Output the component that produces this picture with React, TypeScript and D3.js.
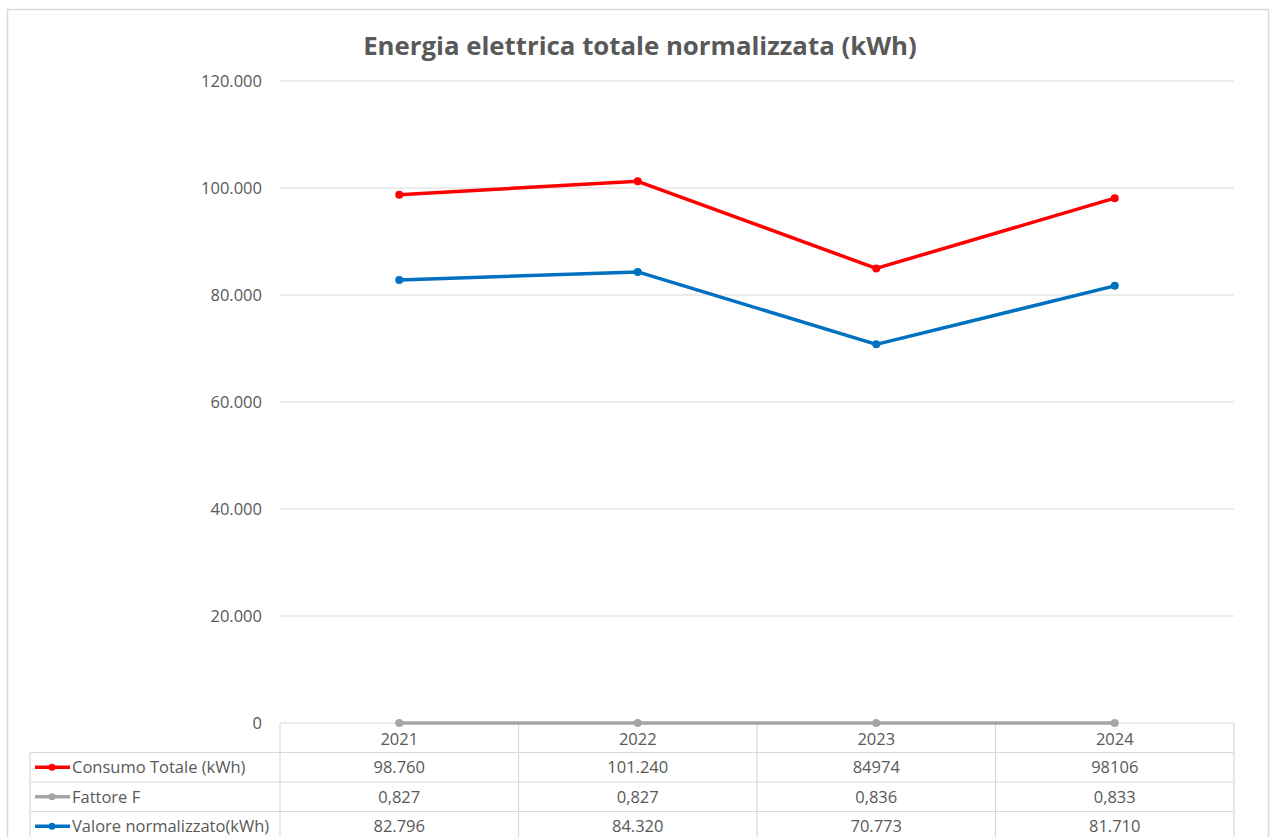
import React from 'react';
import { scaleLinear, scalePoint, line } from 'd3';

const years = ['2021', '2022', '2023', '2024'];
const consumo = [98760, 101240, 84974, 98106];
const fattore = [0.827, 0.827, 0.836, 0.833];
const valore = [82796, 84320, 70773, 81710];
const yTicks = [0, 20000, 40000, 60000, 80000, 100000, 120000];

const consumoLabels = ['98.760', '101.240', '84974', '98106'];
const fattoreLabels = ['0,827', '0,827', '0,836', '0,833'];
const valoreLabels = ['82.796', '84.320', '70.773', '81.710'];

const series = [
  { name: 'Consumo Totale (kWh)', values: consumo, labels: consumoLabels, color: '#FF0000' },
  { name: 'Fattore F', values: fattore, labels: fattoreLabels, color: '#A5A5A5' },
  { name: 'Valore normalizzato(kWh)', values: valore, labels: valoreLabels, color: '#0070C0' },
];

const W = 1271;
const H = 837;
const plotLeft = 280;
const plotRight = 1234;
const plotTop = 81;
const plotBottom = 723;
const tableLeft = 30;
const rowH = 29.5;
const font = "'Open Sans', 'Noto Sans', sans-serif";
const textColor = '#595959';
const gridColor = '#D9D9D9';
const fs = 16.5;

const fmtTick = (v: number) =>
  v === 0 ? '0' : v.toLocaleString('it-IT', { minimumFractionDigits: 0 }).replace(/\s/g, '.');

export default function App() {
  const x = scalePoint<string>().domain(years).range([plotLeft, plotRight]).padding(0.5);
  const y = scaleLinear().domain([0, 120000]).range([plotBottom, plotTop]);
  const colW = (plotRight - plotLeft) / years.length;

  const lineGen = line<number>()
    .x((_, i) => x(years[i]) as number)
    .y((d) => y(d));

  return (
    <svg width={W} height={H} style={{ position: 'absolute', left: 0, top: 0, background: '#fff' }}>
      {/* outer frame */}
      <rect x={7.5} y={9.5} width={1261} height={H} fill="none" stroke={gridColor} strokeWidth={1.5} />

      <text x={640} y={55} textAnchor="middle" fontFamily={font} fontWeight="bold" fontSize={25.8} fill={textColor}>
        Energia elettrica totale normalizzata (kWh)
      </text>

      {/* gridlines and y ticks */}
      {yTicks.map((t) => (
        <g key={t}>
          {t !== 0 && (
            <line x1={plotLeft} x2={plotRight} y1={y(t)} y2={y(t)} stroke={gridColor} strokeWidth={1.2} />
          )}
          <text x={262} y={y(t)} dy="0.35em" textAnchor="end" fontFamily={font} fontSize={fs} fill={textColor}>
            {fmtTick(t)}
          </text>
        </g>
      ))}

      {/* data table */}
      <g stroke={gridColor} strokeWidth={1.2}>
        <line x1={plotLeft} x2={plotRight} y1={plotBottom} y2={plotBottom} />
        {[0, 1, 2].map((r) => (
          <line key={r} x1={tableLeft} x2={plotRight} y1={plotBottom + rowH * (r + 1)} y2={plotBottom + rowH * (r + 1)} />
        ))}
        <line x1={tableLeft} x2={tableLeft} y1={plotBottom + rowH} y2={H} />
        {years.map((_, i) => (
          <line key={i} x1={plotLeft + colW * i} x2={plotLeft + colW * i} y1={plotBottom} y2={H} />
        ))}
        <line x1={plotRight} x2={plotRight} y1={plotBottom} y2={H} />
      </g>
      {years.map((yr) => (
        <text key={yr} x={x(yr)} y={plotBottom + rowH / 2 + 1} dy="0.35em" textAnchor="middle" fontFamily={font} fontSize={fs} fill={textColor}>
          {yr}
        </text>
      ))}
      {series.map((s, r) => {
        const cy = plotBottom + rowH * (r + 1) + rowH / 2;
        return (
          <g key={s.name}>
            <line x1={35} x2={70} y1={cy} y2={cy} stroke={s.color} strokeWidth={3.5} />
            <circle cx={52} cy={cy} r={3.5} fill={s.color} />
            <text x={72} y={cy} dy="0.35em" fontFamily={font} fontSize={fs} fill={textColor}>
              {s.name}
            </text>
            {s.labels.map((l, i) => (
              <text key={i} x={x(years[i])} y={cy} dy="0.35em" textAnchor="middle" fontFamily={font} fontSize={fs} fill={textColor}>
                {l}
              </text>
            ))}
          </g>
        );
      })}

      {/* series lines */}
      {[series[1], series[0], series[2]].map((s) => (
        <g key={s.name}>
          <path d={lineGen(s.values) || ''} fill="none" stroke={s.color} strokeWidth={3.5} strokeLinejoin="round" />
          {s.values.map((v, i) => (
            <circle key={i} cx={x(years[i])} cy={y(v)} r={4} fill={s.color} />
          ))}
        </g>
      ))}
    </svg>
  );
}
